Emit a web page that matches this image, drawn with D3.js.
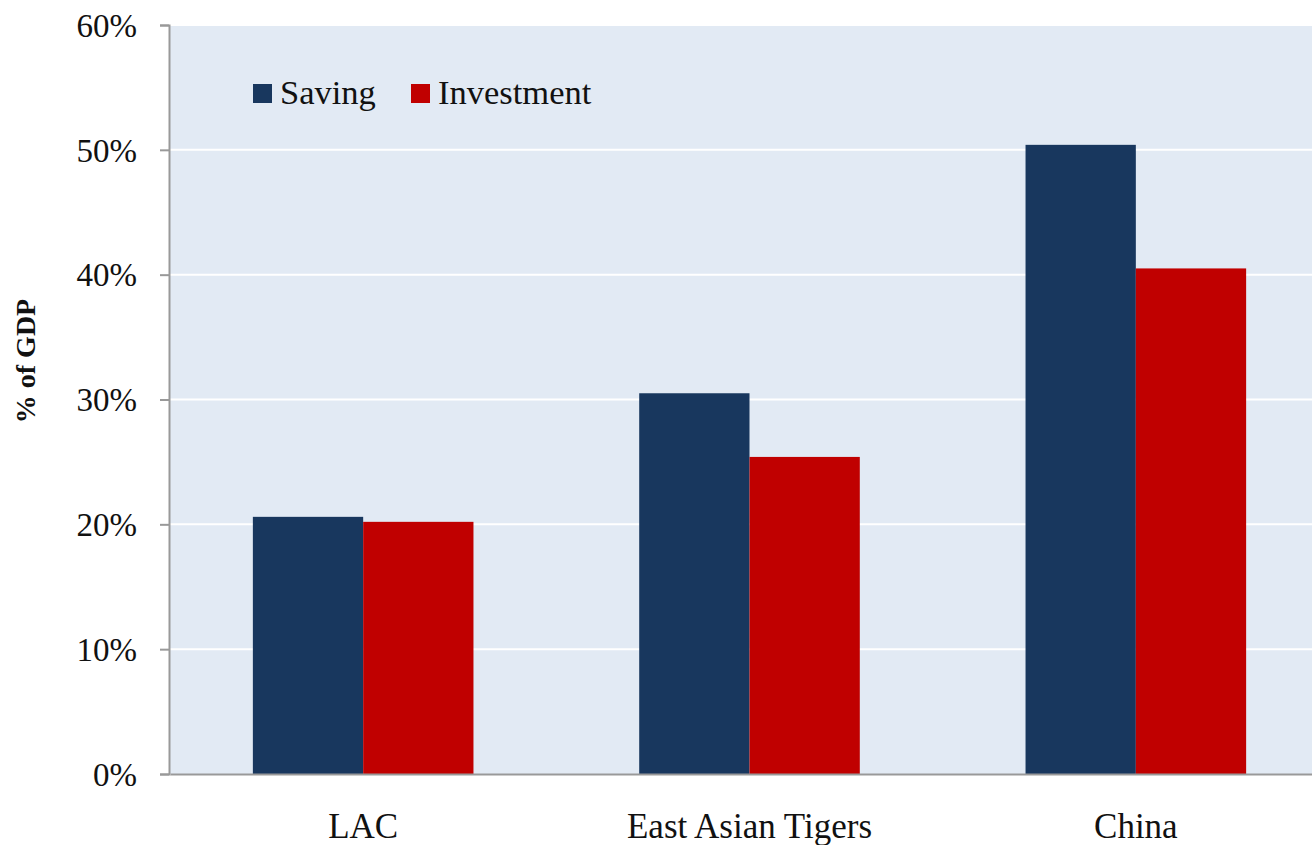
<!DOCTYPE html>
<html>
<head>
<meta charset="utf-8">
<script src="https://cdn.jsdelivr.net/npm/d3@7"></script>
<style>
  body { margin: 0; background: #fff; }
  svg { display: block; }
</style>
</head>
<body>
<svg id="chart" width="1312" height="845"></svg>
<script>
const categories = ["LAC", "East Asian Tigers", "China"];
const seriesNames = ["Saving", "Investment"];
const saving = [20.6, 30.5, 50.4];
const investment = [20.2, 25.4, 40.5];
const yTicks = [0, 10, 20, 30, 40, 50, 60];
const colors = ["#18375E", "#C00000"];
const FONT = "Liberation Serif";

const svg = d3.select("#chart");
const plotLeft = 169, plotTop = 25, plotBottom = 774, plotRight = 1328;

const x0 = d3.scaleBand().domain(categories).range([plotLeft + 1, plotRight + 1]).paddingInner(0.429).paddingOuter(0.2145);
const x1 = d3.scaleBand().domain(seriesNames).range([0, x0.bandwidth()]);
const y = d3.scaleLinear().domain([0, 60]).range([plotBottom, plotTop]);

// plot background
svg.append("rect").attr("x", plotLeft).attr("y", plotTop)
  .attr("width", plotRight - plotLeft).attr("height", plotBottom - plotTop)
  .attr("fill", "#E2EAF4");

// gridlines
svg.append("g").selectAll("line").data(yTicks.filter(d => d > 0)).join("line")
  .attr("x1", plotLeft).attr("x2", plotRight)
  .attr("y1", d => y(d)).attr("y2", d => y(d))
  .attr("stroke", "#ffffff").attr("stroke-width", 2);

// bars
const data = categories.map((c, i) => ({ cat: c, vals: [saving[i], investment[i]] }));
const groups = svg.append("g").selectAll("g").data(data).join("g")
  .attr("transform", d => `translate(${x0(d.cat)},0)`);
groups.selectAll("rect").data(d => d.vals.map((v, j) => ({ name: seriesNames[j], v, j }))).join("rect")
  .attr("x", d => x1(d.name))
  .attr("y", d => y(d.v))
  .attr("width", x1.bandwidth())
  .attr("height", d => y(0) - y(d.v))
  .attr("fill", d => colors[d.j]);

// y axis
const yAxis = d3.axisLeft(y).tickValues(yTicks).tickFormat(d => d + "%").tickSize(9).tickPadding(23);
const yg = svg.append("g").attr("transform", `translate(${plotLeft},0)`).call(yAxis);
yg.attr("font-family", FONT).attr("font-size", 33);
yg.select(".domain").attr("stroke", "#999").attr("stroke-width", 2);
yg.selectAll(".tick line").attr("stroke", "#999").attr("stroke-width", 2);
yg.selectAll(".tick text").attr("fill", "#111").attr("dy", "0.34em");

// x axis
const xAxis = d3.axisBottom(x0).tickSize(0).tickPadding(0);
const xg = svg.append("g").attr("transform", `translate(0,${plotBottom})`).call(xAxis);
xg.attr("font-family", FONT).attr("font-size", 35);
xg.select(".domain").attr("stroke", "#999").attr("stroke-width", 2);
xg.selectAll(".tick text").attr("fill", "#111").attr("y", 64).attr("dy", 0);

// y title
svg.append("text")
  .attr("transform", "translate(35,361) rotate(-90)")
  .attr("text-anchor", "middle")
  .attr("font-family", FONT).attr("font-size", 28).attr("font-weight", "bold")
  .attr("fill", "#111")
  .text("% of GDP");

// legend
const legendX = [253, 411];
const lg = svg.append("g").selectAll("g").data(seriesNames).join("g")
  .attr("transform", (d, i) => `translate(${legendX[i]},84)`);
lg.append("rect").attr("width", 19).attr("height", 19).attr("fill", (d, i) => colors[i]);
lg.append("text").attr("x", 27).attr("y", 20)
  .attr("font-family", FONT).attr("font-size", 34.5).attr("fill", "#111")
  .text(d => d);
</script>
</body>
</html>
